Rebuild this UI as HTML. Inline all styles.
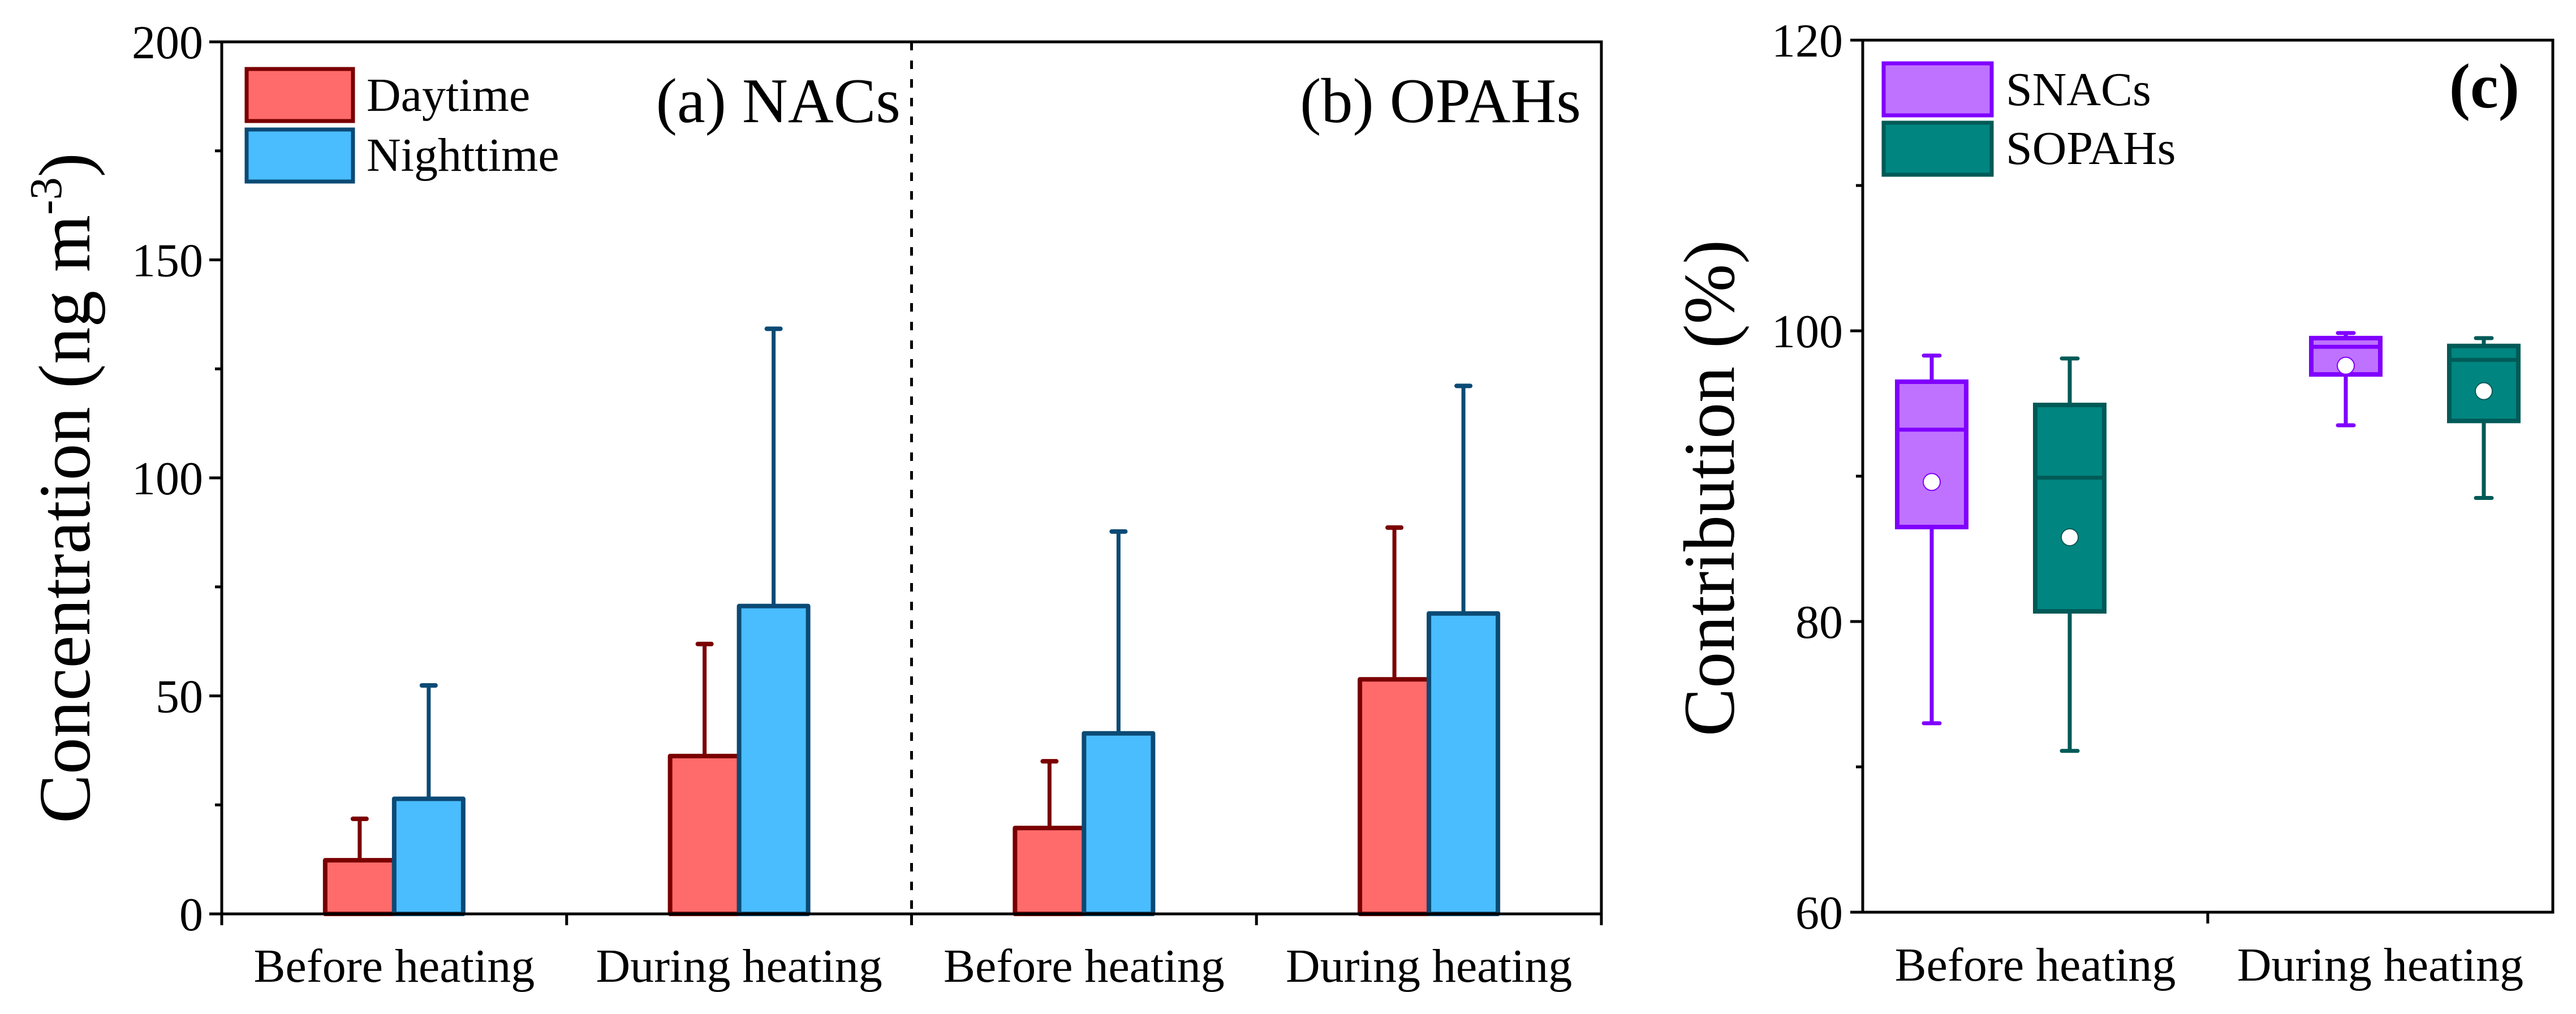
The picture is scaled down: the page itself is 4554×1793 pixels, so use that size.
<!DOCTYPE html>
<html><head><meta charset="utf-8"><style>
html,body{margin:0;padding:0;background:#fff;}
svg{display:block;font-family:"Liberation Serif",serif;}
</style></head><body>
<svg id="chart" width="4554" height="1793" viewBox="0 0 4554 1793" xmlns="http://www.w3.org/2000/svg">
<g id="pa"></g>
<g id="pc"></g>
</svg>
<script>
// Panel a/b data
const barCategories = ["Before heating","During heating","Before heating","During heating"];
const dayMeans = [12.3, 36.2, 19.7, 53.8];
const dayErr = [21.8, 61.9, 35.0, 88.6];
const nightMeans = [26.4, 70.6, 41.4, 68.9];
const nightErr = [52.4, 134.2, 87.7, 121.1];
const barYTicks = [0, 50, 100, 150, 200];
const barYMinor = [25, 75, 125, 175];
// Panel c data
const boxCategories = ["Before heating","During heating"];
const snacsStats = [ // [low, q1, median, q3, high, mean]
  [73.0, 86.5, 93.2, 96.5, 98.3, 89.6],
  [93.5, 97.0, 98.9, 99.5, 99.85, 97.6]
];
const sopahsStats = [
  [71.1, 80.7, 89.9, 94.9, 98.1, 85.8],
  [88.5, 93.8, 98.0, 98.96, 99.5, 95.85]
];
const boxYTicks = [60, 80, 100, 120];
const boxYMinor = [70, 90, 110];

const NS = "http://www.w3.org/2000/svg";
function mk(parent, tag, attrs, text){
  const e = document.createElementNS(NS, tag);
  for (const k in attrs) e.setAttribute(k, attrs[k]);
  if (text !== undefined) e.textContent = text;
  parent.appendChild(e);
  return e;
}
// ---------- Panel a/b ----------
const pa = document.getElementById('pa');
const aL = 392, aR = 2831, aT = 74, aB = 1616;
const ay = v => aB - (v - 0) / 200 * (aB - aT);
const catW = (aR - aL) / 4;
const ax = i => aL + catW * (i + 0.5);
const bw = 122;

for (let i = 0; i < barCategories.length; i++) {
  const cx = ax(i);
  // day error
  let e = mk(pa, 'line', {x1: cx - bw/2, x2: cx - bw/2, y1: ay(dayMeans[i]), y2: ay(dayErr[i]), stroke: '#7a0000', 'stroke-width': 7});
  
  
  e = mk(pa, 'line', {x1: cx - bw/2 - 12, x2: cx - bw/2 + 12, y1: ay(dayErr[i]), y2: ay(dayErr[i]), stroke: '#7a0000', 'stroke-width': 8, 'stroke-linecap': 'round'});
  
  
  e = mk(pa, 'line', {x1: cx + bw/2, x2: cx + bw/2, y1: ay(nightMeans[i]), y2: ay(nightErr[i]), stroke: '#0b4a75', 'stroke-width': 7});
  
  
  e = mk(pa, 'line', {x1: cx + bw/2 - 12, x2: cx + bw/2 + 12, y1: ay(nightErr[i]), y2: ay(nightErr[i]), stroke: '#0b4a75', 'stroke-width': 8, 'stroke-linecap': 'round'});
  
  
  // bars
  e = mk(pa, 'rect', {x: cx - bw, y: ay(dayMeans[i]), width: bw, height: aB - ay(dayMeans[i]), fill: '#ff6b6b', stroke: '#7a0000', 'stroke-width': 8, 'stroke-linejoin': 'round'});
  
  
  e = mk(pa, 'rect', {x: cx, y: ay(nightMeans[i]), width: bw, height: aB - ay(nightMeans[i]), fill: '#4abdff', stroke: '#0b4a75', 'stroke-width': 8, 'stroke-linejoin': 'round'});
  
  
  e = mk(pa, 'text', {x: cx, y: 1736, 'font-size': 84, 'text-anchor': 'middle'}, barCategories[i]);
  
  
}
// axes frame
let f = mk(pa, 'path', {d: `M${aL},${aB} L${aL},${aT} L${aR},${aT} L${aR},${aB} Z`, fill: 'none', stroke: '#000', 'stroke-width': 5});


f = mk(pa, 'line', {x1: aL + catW*2, x2: aL + catW*2, y1: aT, y2: aB + 20, stroke: '#000', 'stroke-width': 5, 'stroke-dasharray': '15 18'});


for (let k = 0; k <= 4; k++) {
  const e = mk(pa, 'line', {x1: aL + catW*k, x2: aL + catW*k, y1: aB, y2: aB + 20, stroke: '#000', 'stroke-width': 5});
  
  
}
barYTicks.forEach(v => {
  let e = mk(pa, 'line', {x1: aL - 22, x2: aL, y1: ay(v), y2: ay(v), stroke: '#000', 'stroke-width': 5});
  
  
  e = mk(pa, 'text', {x: 359, y: ay(v) + 29, 'font-size': 84, 'text-anchor': 'end'}, String(v));
  
  
});
barYMinor.forEach(v => {
  const e = mk(pa, 'line', {x1: aL - 12, x2: aL, y1: ay(v), y2: ay(v), stroke: '#000', 'stroke-width': 5});
  
  
});
</script>
<script>
// static texts panel a/b
(function(){
  const pa = document.getElementById('pa');
  pa.insertAdjacentHTML('beforeend', `
  <text transform="translate(158,863) rotate(-90)" font-size="130" text-anchor="middle">Concentration (ng m<tspan dy="-50" font-size="80">-3</tspan><tspan dy="50">)</tspan></text>
  <rect x="436" y="122" width="188" height="92" fill="#ff6b6b" stroke="#7a0000" stroke-width="7"/>
  <text x="648" y="196" font-size="84">Daytime</text>
  <rect x="436" y="229" width="188" height="92" fill="#4abdff" stroke="#0b4a75" stroke-width="7"/>
  <text x="648" y="302" font-size="84">Nighttime</text>
  <text x="1592" y="216" font-size="112" text-anchor="end">(a) NACs</text>
  <text x="2795" y="216" font-size="112" text-anchor="end">(b) OPAHs</text>
  `);
})();
</script>
<script>
// ---------- Panel c ----------
const pc = document.getElementById('pc');
const cL = 3293, cR = 4513, cT = 71, cB = 1613;
const cy = v => cB - (v - 60) / 60 * (cB - cT);
const cx = u => cL + (u - 0.5) / 2 * (cR - cL);
const boxW = 0.2;
const series = [
  {stats: snacsStats, off: -0.3, offD: -0.1, fill: '#bf72ff', stroke: '#8000ff', name: 'snacs'},
  {stats: sopahsStats, off: 0.1, offD: 0.3, fill: '#008580', stroke: '#005a57', name: 'sopahs'}
];
series.forEach(s => {
  for (let i = 0; i < boxCategories.length; i++) {
    const [lo, q1, med, q3, hi, mean] = s.stats[i];
    const u = (i + 1) + (i === 0 ? s.off : s.offD);
    const x0 = cx(u - boxW/2), x1 = cx(u + boxW/2), xm = cx(u);
    let e = mk(pc, 'line', {x1: xm, x2: xm, y1: cy(lo), y2: cy(hi), stroke: s.stroke, 'stroke-width': 7});
    
    
    [lo, hi].forEach(v => {
      const c = mk(pc, 'line', {x1: xm - 14, x2: xm + 14, y1: cy(v), y2: cy(v), stroke: s.stroke, 'stroke-width': 7, 'stroke-linecap': 'round'});
      
      
    });
    e = mk(pc, 'rect', {x: x0, y: cy(q3), width: x1 - x0, height: cy(q1) - cy(q3), fill: s.fill, stroke: s.stroke, 'stroke-width': 8});
    
    
    e = mk(pc, 'line', {x1: x0, x2: x1, y1: cy(med), y2: cy(med), stroke: s.stroke, 'stroke-width': 7});
    
    
    e = mk(pc, 'circle', {cx: xm, cy: cy(mean), r: 15, fill: '#fff', stroke: s.stroke, 'stroke-width': 2});
    
    
  }
});
let fr = mk(pc, 'rect', {x: cL, y: cT, width: cR - cL, height: cB - cT, fill: 'none', stroke: '#000', 'stroke-width': 5});


fr = mk(pc, 'line', {x1: cx(1.5), x2: cx(1.5), y1: cB, y2: cB + 20, stroke: '#000', 'stroke-width': 5});


boxCategories.forEach((c, i) => {
  const e = mk(pc, 'text', {x: cx(i + 1), y: 1734, 'font-size': 84, 'text-anchor': 'middle'}, c);
  
  
});
boxYTicks.forEach(v => {
  let e = mk(pc, 'line', {x1: cL - 22, x2: cL, y1: cy(v), y2: cy(v), stroke: '#000', 'stroke-width': 5});
  
  
  e = mk(pc, 'text', {x: 3258, y: cy(v) + 29, 'font-size': 84, 'text-anchor': 'end'}, String(v));
  
  
});
boxYMinor.forEach(v => {
  const e = mk(pc, 'line', {x1: cL - 12, x2: cL, y1: cy(v), y2: cy(v), stroke: '#000', 'stroke-width': 5});
  
  
});
pc.insertAdjacentHTML('beforeend', `
  <text transform="translate(3065,863) rotate(-90)" font-size="128" text-anchor="middle">Contribution (%)</text>
  <rect x="3330" y="112" width="191" height="92" fill="#bf72ff" stroke="#8000ff" stroke-width="7"/>
  <text x="3546" y="186" font-size="84">SNACs</text>
  <rect x="3330" y="217" width="191" height="92" fill="#008580" stroke="#005a57" stroke-width="7"/>
  <text x="3546" y="290" font-size="84">SOPAHs</text>
  <text x="4454" y="190" font-size="112" font-weight="bold" text-anchor="end">(c)</text>
`);
</script>
</body></html>
